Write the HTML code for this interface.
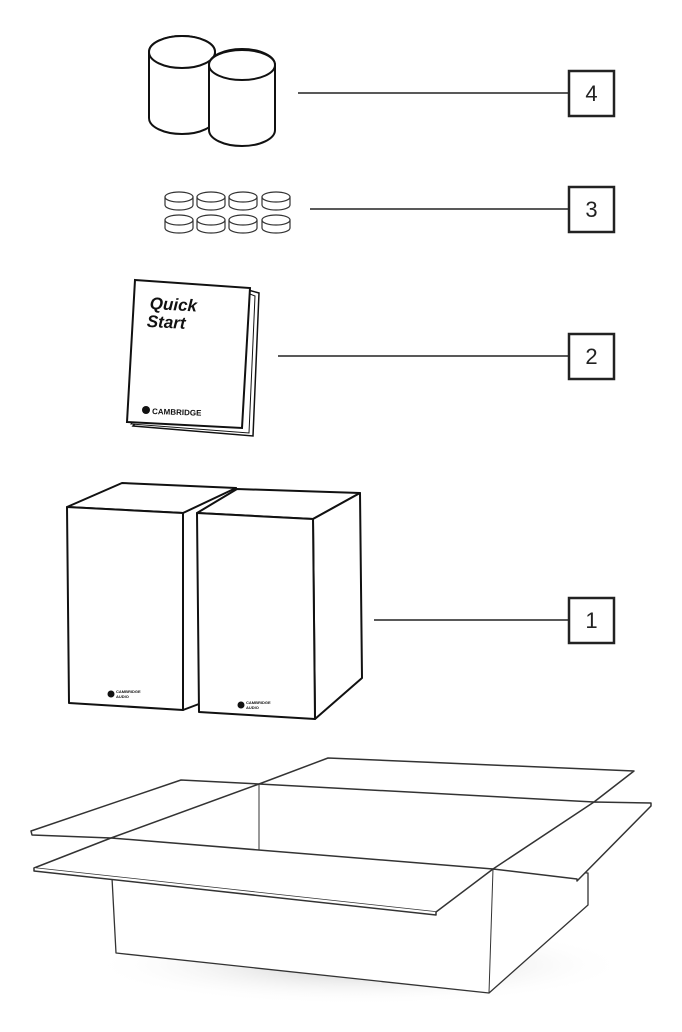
<!DOCTYPE html>
<html><head><meta charset="utf-8"><style>
html,body{margin:0;padding:0;background:#fff;}
svg{display:block;}
text{font-family:"Liberation Sans",sans-serif;}
</style></head><body>
<svg width="682" height="1032" viewBox="0 0 682 1032" xmlns="http://www.w3.org/2000/svg">
<defs>
<radialGradient id="sh" cx="0.5" cy="0.5" r="0.5">
<stop offset="0" stop-color="#bbb" stop-opacity="0.8"/><stop offset="1" stop-color="#fff" stop-opacity="0"/>
</radialGradient>
</defs>
<g fill="none" stroke="#222" stroke-width="1.5">
<line x1="298" y1="93" x2="568" y2="93"/>
<line x1="310" y1="209" x2="568" y2="209"/>
<line x1="278" y1="356" x2="568" y2="356"/>
<line x1="374" y1="620" x2="568" y2="620"/>
<g stroke-width="2.5" fill="#fff">
<rect x="569" y="71" width="45" height="45"/>
<rect x="569" y="187" width="45" height="45"/>
<rect x="569" y="334" width="45" height="45"/>
<rect x="569" y="598" width="45" height="45"/>
</g>
</g>
<g font-size="22" text-anchor="middle" fill="#222">
<text x="591.5" y="101">4</text>
<text x="591.5" y="217">3</text>
<text x="591.5" y="364">2</text>
<text x="591.5" y="628">1</text>
</g>
<g stroke="#111" stroke-width="2" fill="#fff">
<path d="M149,52 L149,118 A33,16 0 0 0 215,118 L215,52 A33,16 0 0 0 149,52 Z"/>
<ellipse cx="182" cy="52" rx="33" ry="16"/>
<path d="M209,65 L209,130 A33,16 0 0 0 275,130 L275,65 A33,16 0 0 0 209,65 Z"/>
<ellipse cx="242" cy="65" rx="33" ry="15"/>
</g>
<g stroke="#333" stroke-width="1.2" fill="#fff">
<g id="d"><path d="M165,197 L165,205 A14,5 0 0 0 193,205 L193,197"/><ellipse cx="179" cy="197" rx="14" ry="5"/></g>
<use href="#d" x="32"/><use href="#d" x="64"/><use href="#d" x="97"/>
<use href="#d" y="23"/><use href="#d" x="32" y="23"/><use href="#d" x="64" y="23"/><use href="#d" x="97" y="23"/>
</g>
<g stroke="#111" stroke-width="2" fill="#fff">
<path d="M248,290 L259,293 L253,436 L133,426 Z" stroke-width="1.5"/>
<path d="M245,292 L255,296 L249,433 L131,424 Z" stroke-width="1"/>
<path d="M135,280 L250,288 L242,428 L127,422 Z"/>
</g>
<g transform="rotate(3 150 300)" fill="#111" font-weight="bold">
<text x="150" y="309" font-size="17" font-style="italic">Quick</text>
<text x="148" y="327" font-size="17" font-style="italic">Start</text>
</g>
<circle cx="146" cy="410" r="4" fill="#111"/>
<text x="152" y="414" font-size="8" font-weight="bold" fill="#111" transform="rotate(2 152 414)">CAMBRIDGE</text>
<g stroke="#111" stroke-width="2" fill="#fff" stroke-linejoin="round">
<path d="M67,507 L122,483 L236,488 L197,512 L183,513 Z"/>
<path d="M183,513 L236,488 L236,690 L183,710 Z"/>
<line x1="177" y1="513" x2="178" y2="709" stroke-width="1"/>
<path d="M67,507 L183,513 L183,710 L69,703 Z"/>
<path d="M197,513 L237,489 L360,493 L313,519 Z"/>
<path d="M313,519 L360,493 L362,678 L315,719 Z"/>
<line x1="307" y1="519" x2="309" y2="718" stroke-width="1"/>
<path d="M197,513 L313,519 L315,719 L199,712 Z"/>
</g>
<circle cx="111" cy="694" r="3.5" fill="#111"/>
<text x="116" y="693" font-size="4" font-weight="bold" fill="#111">CAMBRIDGE</text>
<text x="116" y="698" font-size="4" font-weight="bold" fill="#111">AUDIO</text>
<circle cx="241" cy="705" r="3.5" fill="#111"/>
<text x="246" y="704" font-size="4" font-weight="bold" fill="#111">CAMBRIDGE</text>
<text x="246" y="709" font-size="4" font-weight="bold" fill="#111">AUDIO</text>
<ellipse cx="360" cy="965" rx="270" ry="40" fill="url(#sh)"/>
<g stroke="#333" stroke-width="1.3" fill="#fff" stroke-linejoin="round">
<path d="M112,870 L112,878 L116,953 L489,993 L588,905 L588,873 L493,869 Z"/>
<line x1="493" y1="869" x2="489" y2="993" stroke-width="1"/>
<path d="M328,758 L634,771 L594,802 L259,784 Z" stroke-width="1.5"/>
<line x1="259" y1="784" x2="259" y2="850" stroke-width="1"/>
<path d="M181,780 L259,784 L111,838 L32,835 L31,831 Z" stroke-width="1.5"/>
<path d="M594,802 L651,803 L651,806 L577,881 L577,879 L493,869 Z" stroke-width="1.5"/>
<path d="M111,838 L493,869 L436,912 L34,868 Z" stroke-width="1.5"/>
<path d="M34,868 L34,871 L436,915 L436,912" stroke-width="1.5"/>
</g>
</svg>
</body></html>
